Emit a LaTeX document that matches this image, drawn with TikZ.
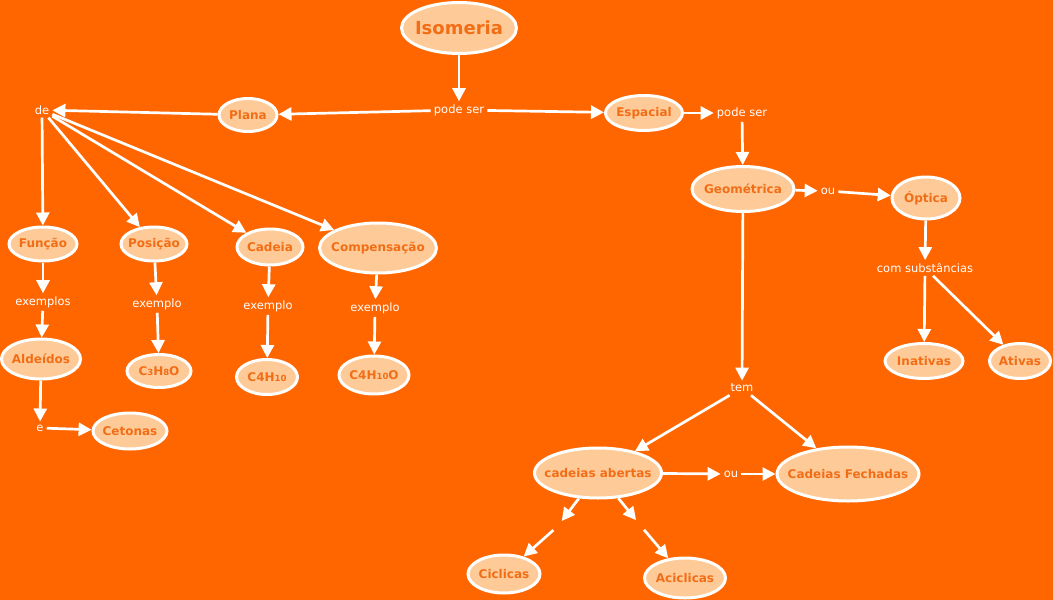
\documentclass[tikz,border=0pt]{standalone}
\usepackage{fontspec}
\setmainfont{DejaVu Sans}
\usetikzlibrary{shapes.geometric,arrows.meta}
\definecolor{bg}{RGB}{255,102,0}
\definecolor{peach}{RGB}{254,202,152}
\definecolor{txt}{RGB}{242,110,22}
\newcommand{\sm}[1]{{\fontsize{8.5}{9}\selectfont #1}}
\newcommand{\cnode}[6][]{\node[concept, minimum width=#4, minimum height=#5, label={[ctext,#1]center:#6}] (#2) at (#3) {};}
\begin{document}
\begin{tikzpicture}[x=1pt,y=-1pt,
 concept/.style={ellipse, draw=white, line width=3pt, fill=peach, inner sep=0pt},
 ctext/.style={text=txt, font=\fontsize{12}{14}\selectfont\bfseries, inner sep=0pt},
 link/.style={text=white, font=\fontsize{11.5}{13}\selectfont, inner sep=3pt},
 blank/.style={circle, minimum size=12pt, inner sep=0pt},
 arr/.style={draw=white, line width=2.7pt, -{Triangle[length=13pt,width=13pt]}},
 ]
\fill[bg] (0,0) rectangle (1053,600);
\useasboundingbox (0,0) rectangle (1053,600);
% concepts
\cnode[font=\fontsize{18}{20}\selectfont\bfseries]{iso}{459,28}{115pt}{51pt}{Isomeria}
\cnode{plana}{248,115}{58pt}{33pt}{Plana}
\cnode{esp}{644,113}{77pt}{35pt}{Espacial}
\cnode{func}{43,244}{68pt}{34pt}{Função}
\cnode{pos}{154,244}{66pt}{34pt}{Posição}
\cnode{cad}{270,247}{66pt}{36pt}{Cadeia}
\cnode{comp}{378,248}{117pt}{50pt}{Compensação}
\cnode{ald}{41,359}{79pt}{40pt}{Aldeídos}
\cnode{f1}{159,371}{64pt}{33pt}{C\sm{3}H\sm{8}O}
\cnode{f2}{267,377}{61pt}{35pt}{C4H\sm{10}}
\cnode{f3}{374,375}{70pt}{38pt}{C4H\sm{10}O}
\cnode{cet}{130,431}{74pt}{36pt}{Cetonas}
\cnode{geo}{743,189}{102pt}{45pt}{Geométrica}
\cnode{opt}{926,198}{68pt}{42pt}{Óptica}
\cnode{inat}{924,361}{78pt}{35pt}{Inativas}
\cnode{ativ}{1020,361}{61pt}{35pt}{Ativas}
\cnode{cab}{598,473}{127pt}{50pt}{cadeias abertas}
\cnode{cfe}{848,474}{142pt}{54pt}{Cadeias Fechadas}
\cnode{cic}{504,574}{72pt}{38pt}{Ciclicas}
\cnode{acic}{685,578}{81pt}{40pt}{Aciclicas}
% links
\node[link] (ps1) at (459,110) {pode ser};
\node[link] (de) at (42,110) {de};
\node[link] (ps2) at (742,113) {pode ser};
\node[link] (exs) at (43,302) {exemplos};
\node[link] (ex1) at (157,304) {exemplo};
\node[link] (ex2) at (268,306) {exemplo};
\node[link] (ex3) at (375,308) {exemplo};
\node[link] (e) at (40,428) {e};
\node[link] (ou1) at (828,191) {ou};
\node[link] (cs) at (925,268) {com substâncias};
\node[link] (tem) at (742,388) {tem};
\node[link] (ou2) at (731,474) {ou};
\node[blank] (b1) at (558,526) {};
\node[blank] (b2) at (640,525) {};
% connectors
\draw[arr] (iso) -- (ps1);
\draw[arr] (ps1) -- (plana);
\draw[arr] (ps1) -- (esp);
\draw[arr] (plana) -- (de);
\draw[arr] (de) -- (func);
\draw[arr] (de) -- (pos);
\draw[arr] (de) -- (cad);
\draw[arr] (de) -- (comp);
\draw[arr] (func) -- (exs);
\draw[arr] (exs) -- (ald);
\draw[arr] (pos) -- (ex1);
\draw[arr] (ex1) -- (f1);
\draw[arr] (cad) -- (ex2);
\draw[arr] (ex2) -- (f2);
\draw[arr] (comp) -- (ex3);
\draw[arr] (ex3) -- (f3);
\draw[arr] (ald) -- (e);
\draw[arr] (e) -- (cet);
\draw[arr] (esp) -- (ps2);
\draw[arr] (ps2) -- (geo);
\draw[arr] (geo) -- (ou1);
\draw[arr] (ou1) -- (opt);
\draw[arr] (opt) -- (cs);
\draw[arr] (cs) -- (inat);
\draw[arr] (cs) -- (ativ);
\draw[arr] (geo) -- (tem);
\draw[arr] (tem) -- (cab);
\draw[arr] (tem) -- (cfe);
\draw[arr] (cab) -- (ou2);
\draw[arr] (ou2) -- (cfe);
\draw[arr] (cab) -- (b1);
\draw[arr] (b1) -- (cic);
\draw[arr] (cab) -- (b2);
\draw[arr] (b2) -- (acic);
\end{tikzpicture}
\end{document}
